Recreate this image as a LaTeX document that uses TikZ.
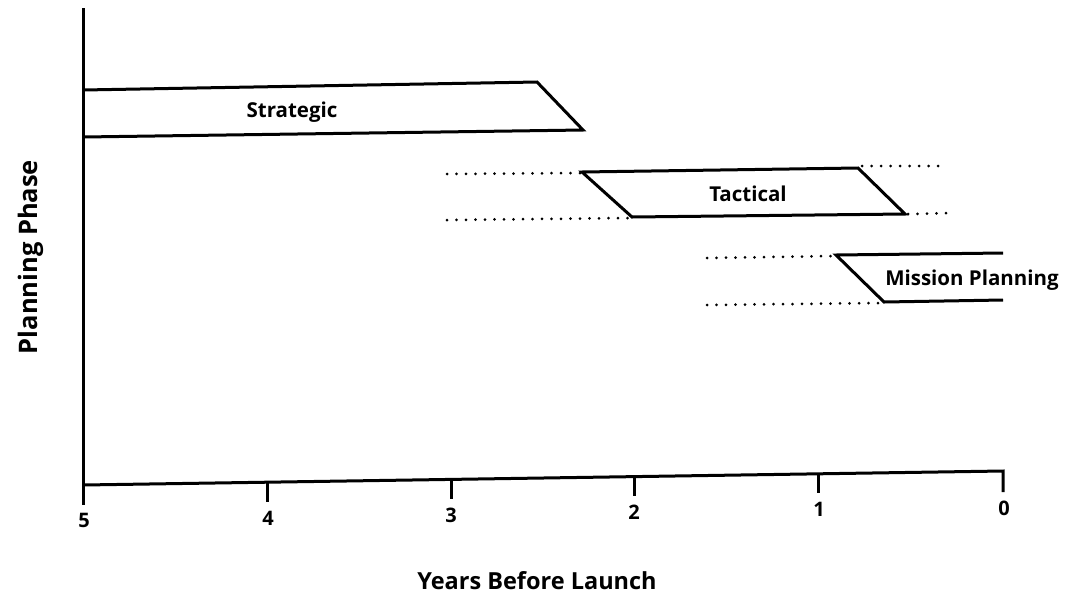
\documentclass[tikz,border=0pt]{standalone}
\usepackage{fontspec}
\setmainfont{Open Sans}
\begin{document}
\begin{tikzpicture}[x=1pt,y=-1pt,
  solidline/.style={line width=3pt,line join=miter},
  dotline/.style={line width=3pt,line cap=round,dash pattern=on 0pt off 9.5pt},
  barlabel/.style={font=\bfseries\fontsize{20.5}{24}\selectfont,inner sep=0pt},
  ticklabel/.style={font=\bfseries\fontsize{20}{24}\selectfont,inner sep=0pt},
  axislabel/.style={font=\bfseries\fontsize{23.5}{28}\selectfont,inner sep=0pt}]
\useasboundingbox (0,0) rectangle (1067,598);
% axes
\draw[solidline] (83,8) -- (83,505);
\draw[solidline] (83,485) -- (1003,471) -- (1003,492);
\foreach \x/\y in {267/482,451/479,634/476,818/473}{
  \draw[solidline] (\x,\y) -- (\x,\y+20);
}
\node[ticklabel] (t5) at (84,520) {5};
\node[ticklabel] (t4) at (268,518) {4};
\node[ticklabel] (t3) at (451,515) {3};
\node[ticklabel] (t2) at (634,512) {2};
\node[ticklabel] (t1) at (819,509) {1};
\node[ticklabel] (t0) at (1004,508) {0};
% strategic
\draw[solidline] (83,90) -- (537,82) -- (583,130) -- (83,137);
\node[barlabel] (strategic) at (292,112) {Strategic};
% tactical
\draw[dotline] (447,174) -- (580,173);
\draw[dotline] (447,220) -- (630,218);
\draw[dotline] (862,166) -- (942,166);
\draw[dotline] (908,214) -- (950,213);
\draw[solidline] (582,172) -- (858,168) -- (905,214) -- (632,217) -- cycle;
\node[barlabel] (tactical) at (748,194) {Tactical};
% mission planning
\draw[dotline] (707,258) -- (834,256);
\draw[dotline] (707,305) -- (880,303);
\draw[solidline] (1003,253) -- (836,255) -- (884,302) -- (1003,300);
\node[barlabel] (mission) at (972,280) {Mission Planning};
% axis labels
\node[axislabel,rotate=90,font=\bfseries\fontsize{25.5}{30}\selectfont] (ylab) at (31,257) {Planning Phase};
\node[axislabel] (xlab) at (537,581) {Years Before Launch};
\end{tikzpicture}
\end{document}
